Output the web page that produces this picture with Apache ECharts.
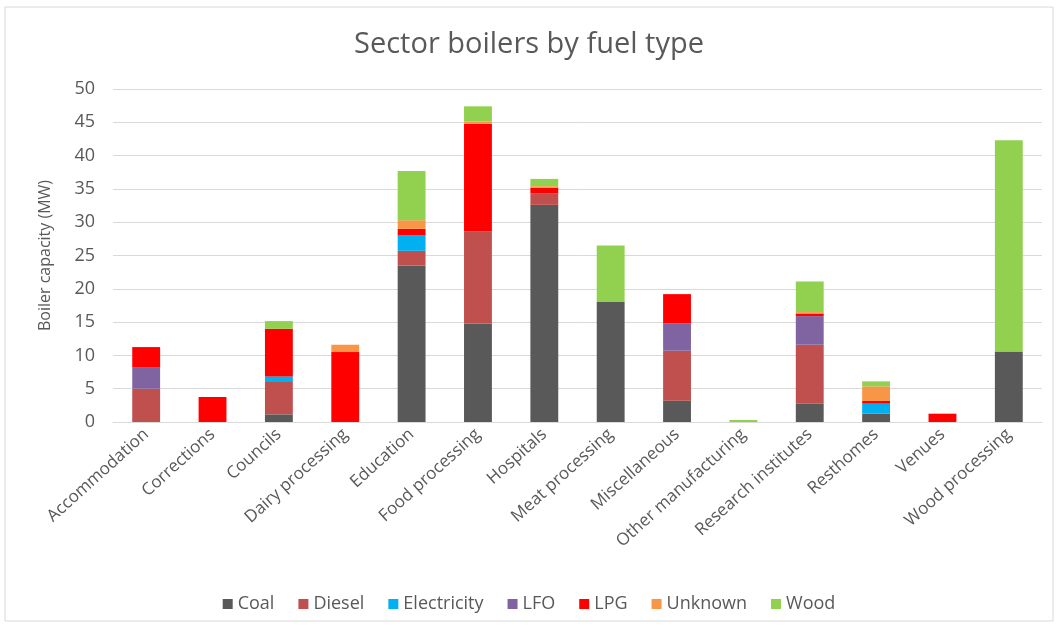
<!DOCTYPE html>
<html>
<head>
<meta charset="utf-8">
<title>Sector boilers by fuel type</title>
<script src="https://cdn.jsdelivr.net/npm/echarts@6/dist/echarts.min.js"></script>
<style>
  html, body { margin: 0; padding: 0; background: #fff; }
  #chart { width: 1058px; height: 627px; }
</style>
</head>
<body>
<div id="chart"></div>
<script>
// sectors along the x axis
const sectors = ['Accommodation', 'Corrections', 'Councils', 'Dairy processing', 'Education',
  'Food processing', 'Hospitals', 'Meat processing', 'Miscellaneous', 'Other manufacturing',
  'Research institutes', 'Resthomes', 'Venues', 'Wood processing'];

// boiler capacity (MW) per fuel
const coal        = [0,    0,    1.15, 0,    23.5, 14.8, 32.6, 18.0, 3.2, 0,   2.75, 1.25, 0,    10.6];
const diesel      = [5.0,  0,    4.85, 0,    2.2,  13.8, 1.7,  0,    7.5, 0,   8.85, 0,    0,    0];
const electricity = [0,    0,    0.85, 0,    2.3,  0,    0,    0,    0,   0,   0,    1.5,  0,    0];
const lfo         = [3.25, 0,    0,    0,    0,    0,    0,    0,    4.1, 0,   4.3,  0,    0,    0];
const lpg         = [3.0,  3.75, 7.15, 10.5, 1.0,  16.2, 0.9,  0,    4.4, 0,   0.4,  0.4,  1.25, 0];
const unknown     = [0,    0,    0,    1.1,  1.3,  0.3,  0.2,  0,    0,   0,   0.2,  2.2,  0,    0];
const wood        = [0,    0,    1.15, 0,    7.4,  2.3,  1.1,  8.5,  0,   0.3, 4.6,  0.75, 0,    31.7];

const yTicks = { min: 0, max: 50, step: 5 };

const fuels = [
  { name: 'Coal', data: coal, color: '#595959' },
  { name: 'Diesel', data: diesel, color: '#C0504D' },
  { name: 'Electricity', data: electricity, color: '#00B0F0' },
  { name: 'LFO', data: lfo, color: '#8064A2' },
  { name: 'LPG', data: lpg, color: '#FF0000' },
  { name: 'Unknown', data: unknown, color: '#F79646' },
  { name: 'Wood', data: wood, color: '#92D050' }
];

const textGrey = '#595959';
const font = 'Open Sans';

const chart = echarts.init(document.getElementById('chart'), null, { renderer: 'canvas' });

const option = {
  backgroundColor: '#fff',
  animation: false,
  textStyle: { fontFamily: font, color: textGrey },
  graphic: [{
    type: 'rect',
    shape: { x: 5, y: 7, width: 1048, height: 614 },
    style: { fill: 'none', stroke: '#d9d9d9', lineWidth: 1 },
    silent: true
  }],
  title: {
    text: 'Sector boilers by fuel type',
    left: 'center',
    top: 25,
    textStyle: { fontFamily: font, fontWeight: 'normal', fontSize: 29, color: textGrey }
  },
  legend: {
    bottom: 9,
    left: 'center',
    itemWidth: 10,
    itemHeight: 10,
    itemGap: 24,
    icon: 'rect',
    textStyle: { fontFamily: font, fontSize: 18, color: textGrey },
    data: fuels.map(f => f.name)
  },
  grid: { left: 113, right: 16, top: 89, bottom: 205 },
  xAxis: {
    type: 'category',
    data: sectors,
    axisLine: { lineStyle: { color: '#d9d9d9' } },
    axisTick: { show: false },
    axisLabel: { rotate: 42, fontSize: 17, color: textGrey, fontFamily: font, margin: 10, interval: 0 }
  },
  yAxis: {
    type: 'value',
    min: yTicks.min,
    max: yTicks.max,
    interval: yTicks.step,
    name: 'Boiler capacity (MW)',
    nameLocation: 'middle',
    nameGap: 60,
    nameTextStyle: { fontFamily: font, fontSize: 16, color: textGrey },
    axisLine: { show: false },
    axisTick: { show: false },
    axisLabel: { fontSize: 18, color: textGrey, fontFamily: font, margin: 18 },
    splitLine: { lineStyle: { color: '#d9d9d9', width: 1 } }
  },
  series: fuels.map(f => ({
    name: f.name,
    type: 'bar',
    stack: 'fuel',
    barWidth: '42%',
    data: f.data,
    itemStyle: { color: f.color }
  }))
};

chart.setOption(option);
</script>
</body>
</html>
